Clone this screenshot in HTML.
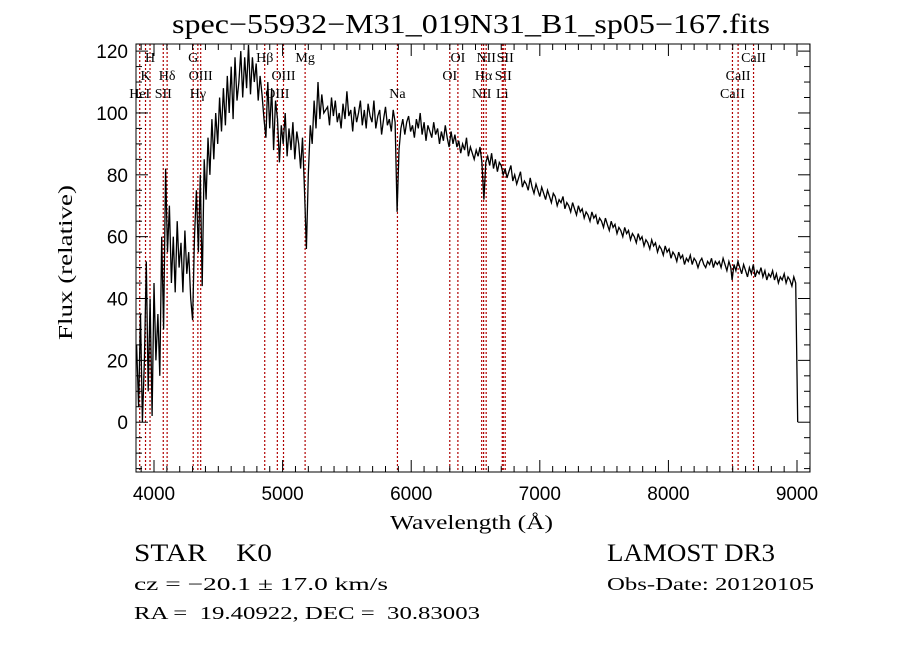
<!DOCTYPE html>
<html><head><meta charset="utf-8">
<style>
html,body{margin:0;padding:0;background:#fff;}
svg{display:block;}
text{font-family:"Liberation Serif",serif;fill:#000;white-space:pre;}
.tick{font-family:"Liberation Sans",sans-serif;font-size:19px;}
.lbl{font-size:14px;}
</style></head>
<body>
<svg id="chart" width="900" height="649" viewBox="0 0 900 649">
<rect width="900" height="649" fill="#fff"/>
<text x="172" y="33" textLength="598" lengthAdjust="spacingAndGlyphs" font-size="27">spec−55932−M31_019N31_B1_sp05−167.fits</text>
<g id="lines"></g>
<g id="axes"></g>
<path id="spec" fill="none" stroke="#000" stroke-width="1.3"/>
<rect x="136" y="44" width="674" height="428" fill="none" stroke="#000" stroke-width="1"/>
<text x="390" y="529" textLength="163" lengthAdjust="spacingAndGlyphs" font-size="20">Wavelength (Å)</text>
<text transform="translate(72,340) rotate(-90)" textLength="155" lengthAdjust="spacingAndGlyphs" font-size="20">Flux (relative)</text>
<text x="134" y="561" textLength="138" lengthAdjust="spacingAndGlyphs" font-size="25">STAR    K0</text>
<text x="134" y="590" textLength="254" lengthAdjust="spacingAndGlyphs" font-size="18">cz = −20.1 ± 17.0 km/s</text>
<text x="134" y="619" textLength="346" lengthAdjust="spacingAndGlyphs" font-size="18">RA =  19.40922, DEC =  30.83003</text>
<text x="607" y="561" textLength="168" lengthAdjust="spacingAndGlyphs" font-size="25">LAMOST DR3</text>
<text x="607" y="590" textLength="207" lengthAdjust="spacingAndGlyphs" font-size="18">Obs-Date: 20120105</text>
</svg>
<script>
const fluxStep = 15;
const seg1Start = 3865;
const seg1Flux = [25,5,35,0,20,52,10,40,2,45,
20,35,15,60,30,82,55,70,45,60,
42,65,50,58,42,62,48,55,40,33,
60,75,55,80,44,85,72,92,80,98,
85,100,90,105,94,108,96,112,100,115,
98,118,104,110,120,105,118,108,122,106,
118,110,116,104,112,106,98,92,110,95,
108,88,104,98,84,96,90,100,86,95,
88,97,85,94,90,82,92,75,56,80,
96,90,104,95,110,98,106,100];
const seg2Start = 5350;
const seg2Flux = [102,96,105,99,104,97,100,95,103,98,107,99,101,94,102,97,100,104,96,101,95,103,99,97,104,95,99,101,93,98,102,96,98,94,101,97];
const seg3Start = 5890;
const seg3Flux = [68,88,95,98,93,97,99,94,96,92,98,95,100,93,97,91,96,94,92,97,93,95,90,94,91,96,92,89,94,90,93,89,91,87,90,88,92,86,89,87,85,88,86,89];
const seg4Start = 6550;
const seg4Flux = [84,72,84,
86,83,87,82,85,81,84,83,80,82,
79,81,83,78,80,77,79,81,76,78,
77,75,79,76,74,77,75,73,76,74,
72,75,73,71,74,73,70,72,71,73,
69,71,70,68,71,69,67,70,68,69,
66,68,67,65,68,66,67,64,66,65,
63,66,64,62,65,63,64,61,63,62,
60,63,61,62,59,61,60,58,61,59,
60,57,59,58,56,59,57,58,55,57,
56,54,57,55,56,53,55,54,52,55,
53,54,51,53,52,54,51,53,52,50,
52,53,51,50,52,51,53,50,52,51,
52,50,53,51,49,52,50];
const seg5Start = 8495;
const seg5Flux = [46,51,49,52,50,48,51,49,47,50,48,51,47,49,48,50,47,49,46,48,47,49,46,48,45,47,46,48,45,47,46,44,47,45,0];
const segStarts = [seg1Start,seg2Start,seg3Start,seg4Start,seg5Start];
const segFluxes = [seg1Flux,seg2Flux,seg3Flux,seg4Flux,seg5Flux];

const xTicks = [4000,5000,6000,7000,8000,9000];
const yTicks = [0,20,40,60,80,100,120];
const lineNames = ["HeI","K","H","SII","Hδ","G","Hγ","OIII","Hβ","OIII","OIII","Mg","Na","OI","OI","NII","Hα","NII","Li","SII","SII","CaII","CaII","CaII"];
const lineWaves = [3889,3934,3969,4072,4102,4305,4341,4363,4861,4959,5007,5175,5893,6300,6363,6548,6563,6583,6708,6716,6731,8498,8542,8662];
const lineRows = [2,1,0,2,1,0,2,1,0,2,1,0,2,1,0,2,1,0,2,1,0,2,1,0];

const X0=3860, X1=9101, Y0=-16.1, Y1=122.3;
const PL=136, PR=810, PT=44, PB=472;
const xs = w => PL + (w - X0) / (X1 - X0) * (PR - PL);
const ys = v => PB - (v - Y0) / (Y1 - Y0) * (PB - PT);
const NS = "http://www.w3.org/2000/svg";
function mk(tag, attrs, parent){const e=document.createElementNS(NS,tag);for(const k in attrs)e.setAttribute(k,attrs[k]);parent.appendChild(e);return e;}

const axes = document.getElementById('axes');
for(let w=3900; w<=9100; w+=100){
  const major = w%1000===0;
  const L = major?12:6;
  const t1 = mk('line',{x1:xs(w),x2:xs(w),y1:PB,y2:PB-L,stroke:'#000'},axes);
  
  
  const t2 = mk('line',{x1:xs(w),x2:xs(w),y1:PT,y2:PT+L,stroke:'#000'},axes);
  
  
}
xTicks.forEach(w=>{
  const t = mk('text',{x:xs(w),y:500,'text-anchor':'middle',class:'tick'},axes);
  t.textContent = w;
  
  
});
for(let v=-15; v<=120; v+=5){
  const major = v%20===0;
  const L = major?12:6;
  const t1 = mk('line',{x1:PL,x2:PL+L,y1:ys(v),y2:ys(v),stroke:'#000'},axes);
  
  
  const t2 = mk('line',{x1:PR,x2:PR-L,y1:ys(v),y2:ys(v),stroke:'#000'},axes);
  
  
}
yTicks.forEach(v=>{
  const t = mk('text',{x:128,y:ys(v)+7,'text-anchor':'end',class:'tick'},axes);
  t.textContent = v;
  
  
});

const lg = document.getElementById('lines');
lineWaves.forEach((w,i)=>{
  const l = mk('line',{x1:xs(w),x2:xs(w),y1:PT,y2:PB,stroke:'#b00000','stroke-width':1.2,'stroke-dasharray':'2,2'},lg);
  
  
  const t = mk('text',{x:xs(w),y:62+lineRows[i]*18,'text-anchor':'middle',class:'lbl'},lg);
  t.textContent = lineNames[i];
  
  
});

let d='';
segFluxes.forEach((arr,s)=>{
  arr.forEach((v,i)=>{
    const w = segStarts[s] + i*fluxStep;
    d += (d?'L':'M') + xs(w).toFixed(1) + ',' + ys(v).toFixed(1);
  });
});
document.getElementById('spec').setAttribute('d',d);
</script>
</body></html>
